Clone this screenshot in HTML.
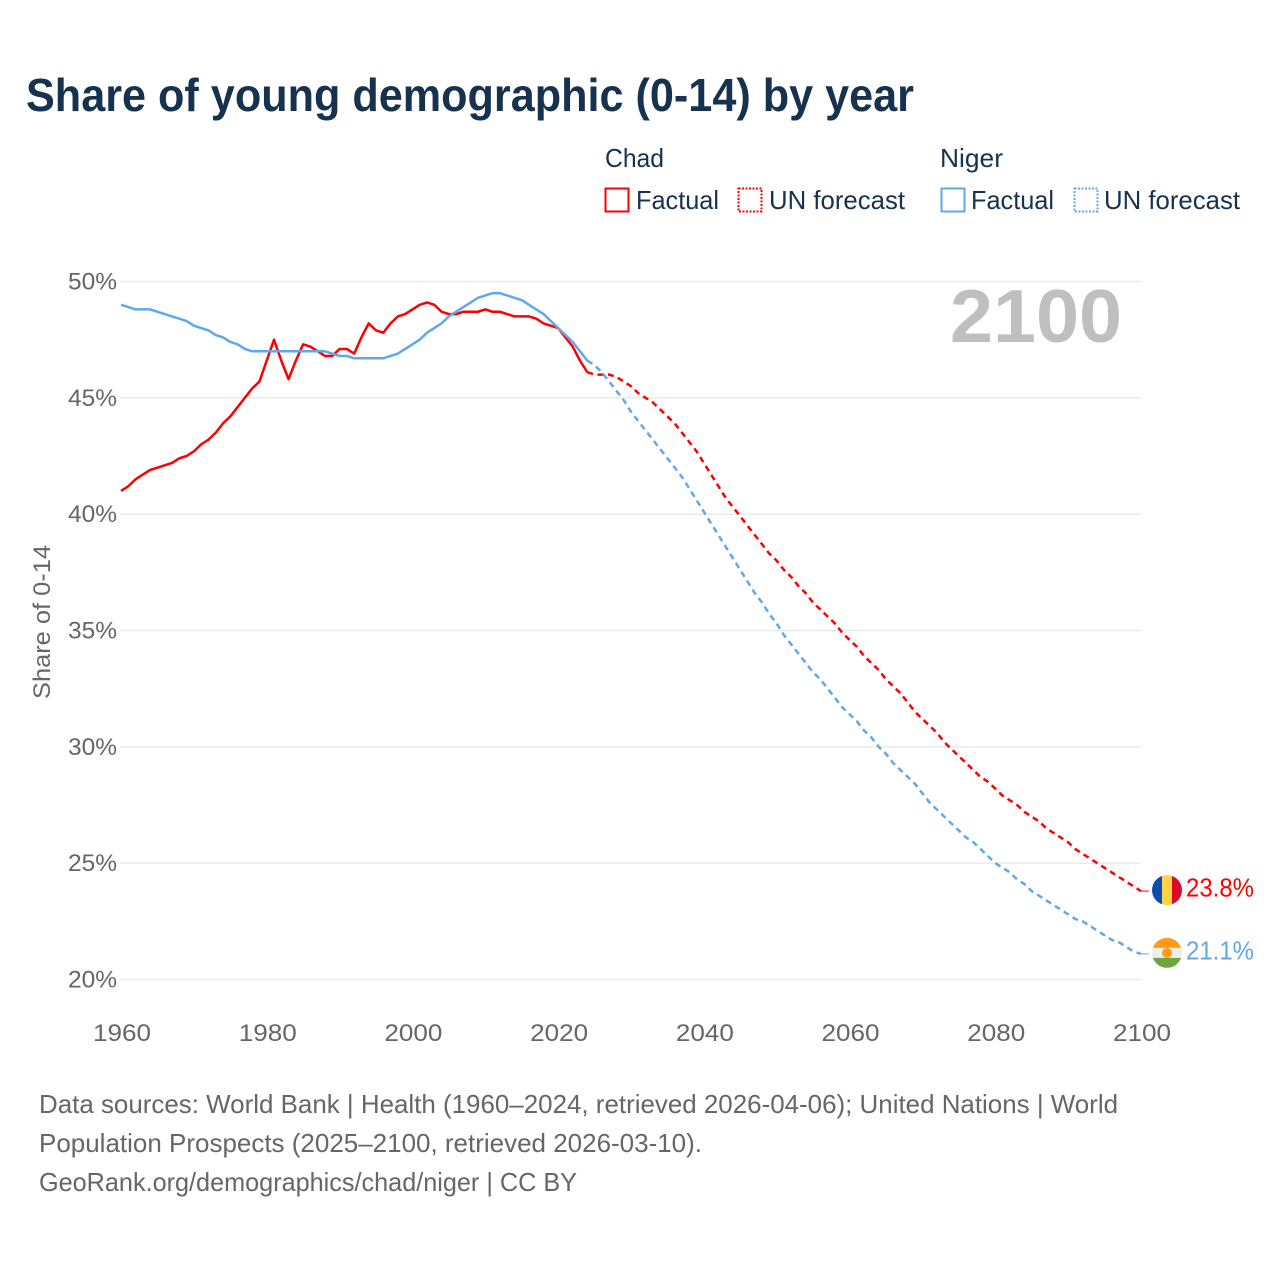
<!DOCTYPE html>
<html lang="en">
<head>
<meta charset="utf-8">
<title>Share of young demographic (0-14) by year</title>
<style>
  html, body { margin: 0; padding: 0; background: #fff; }
  svg { display: block; font-family: "Liberation Sans", sans-serif; }
</style>
</head>
<body>
<svg id="chart" xmlns="http://www.w3.org/2000/svg" width="1280" height="1280" viewBox="0 0 1280 1280">
  <rect width="1280" height="1280" fill="#ffffff"/>
  <text x="26" y="111" font-size="46" font-weight="700" fill="#16324f" textLength="888" lengthAdjust="spacingAndGlyphs">Share of young demographic (0-14) by year</text>

  <g font-size="26" fill="#16324f">
    <text x="605" y="167" textLength="59" lengthAdjust="spacingAndGlyphs">Chad</text>
    <text x="940" y="167" textLength="63" lengthAdjust="spacingAndGlyphs">Niger</text>
    <rect x="605.5" y="188.5" width="23" height="23" fill="none" stroke="#ff0000" stroke-width="2"/>
    <text x="636" y="209" textLength="83" lengthAdjust="spacingAndGlyphs">Factual</text>
    <rect x="738.5" y="188.5" width="23" height="23" fill="none" stroke="#ff0000" stroke-width="2" stroke-dasharray="2 1.5"/>
    <text x="769" y="209" textLength="136" lengthAdjust="spacingAndGlyphs">UN forecast</text>
    <rect x="941.5" y="188.5" width="23" height="23" fill="none" stroke="#5fa8ee" stroke-width="2"/>
    <text x="971" y="209" textLength="83" lengthAdjust="spacingAndGlyphs">Factual</text>
    <rect x="1074.5" y="188.5" width="23" height="23" fill="none" stroke="#5fa8ee" stroke-width="2" stroke-dasharray="2 1.5"/>
    <text x="1104" y="209" textLength="136" lengthAdjust="spacingAndGlyphs">UN forecast</text>
  </g>

  <g id="grid"></g>
  <g id="y-labels" font-size="24" fill="#666666" text-anchor="end"></g>
  <g id="x-labels" font-size="24" fill="#666666" text-anchor="middle"></g>

  <text transform="translate(50 622) rotate(-90)" font-size="24" fill="#666666" text-anchor="middle" textLength="154" lengthAdjust="spacingAndGlyphs">Share of 0-14</text>

  <text x="1122" y="342" font-size="75" font-weight="700" fill="#bfbfbf" text-anchor="end" textLength="172" lengthAdjust="spacingAndGlyphs">2100</text>

  <g id="series" fill="none" stroke-linejoin="round"></g>
  <g id="end-markers"></g>

  <g font-size="26" fill="#666666">
    <text x="39" y="1113" textLength="1079" lengthAdjust="spacingAndGlyphs">Data sources: World Bank | Health (1960–2024, retrieved 2026-04-06); United Nations | World</text>
    <text x="39" y="1152" textLength="663" lengthAdjust="spacingAndGlyphs">Population Prospects (2025–2100, retrieved 2026-03-10).</text>
    <text x="39" y="1191" textLength="538" lengthAdjust="spacingAndGlyphs">GeoRank.org/demographics/chad/niger | CC BY</text>
  </g>
</svg>

<script>
const factualYears = [1960,1961,1962,1963,1964,1965,1966,1967,1968,1969,1970,1971,1972,1973,1974,1975,1976,1977,1978,1979,1980,1981,1982,1983,1984,1985,1986,1987,1988,1989,1990,1991,1992,1993,1994,1995,1996,1997,1998,1999,2000,2001,2002,2003,2004,2005,2006,2007,2008,2009,2010,2011,2012,2013,2014,2015,2016,2017,2018,2019,2020,2021,2022,2023,2024];
const forecastYears = [2024,2025,2026,2027,2028,2029,2030,2031,2032,2033,2034,2035,2036,2037,2038,2039,2040,2041,2042,2043,2044,2045,2046,2047,2048,2049,2050,2051,2052,2053,2054,2055,2056,2057,2058,2059,2060,2061,2062,2063,2064,2065,2066,2067,2068,2069,2070,2071,2072,2073,2074,2075,2076,2077,2078,2079,2080,2081,2082,2083,2084,2085,2086,2087,2088,2089,2090,2091,2092,2093,2094,2095,2096,2097,2098,2099,2100];
const chadFactual = [41.0,41.2,41.5,41.7,41.9,42.0,42.1,42.2,42.4,42.5,42.7,43.0,43.2,43.5,43.9,44.2,44.6,45.0,45.4,45.7,46.6,47.5,46.6,45.8,46.6,47.3,47.2,47.0,46.8,46.8,47.1,47.1,46.9,47.6,48.2,47.9,47.8,48.2,48.5,48.6,48.8,49.0,49.1,49.0,48.7,48.6,48.6,48.7,48.7,48.7,48.8,48.7,48.7,48.6,48.5,48.5,48.5,48.4,48.2,48.1,48.0,47.6,47.2,46.6,46.1];
const chadForecast = [46.1,46.0,46.0,46.0,45.9,45.7,45.5,45.2,45.0,44.8,44.5,44.2,43.9,43.5,43.1,42.7,42.2,41.7,41.2,40.7,40.3,39.9,39.5,39.1,38.7,38.3,38.0,37.6,37.3,36.9,36.6,36.2,35.9,35.6,35.3,34.9,34.6,34.3,33.9,33.6,33.3,32.9,32.6,32.3,31.9,31.5,31.2,30.9,30.6,30.2,29.9,29.6,29.3,29.0,28.7,28.5,28.2,27.9,27.7,27.5,27.2,27.0,26.8,26.5,26.3,26.1,25.9,25.6,25.4,25.2,25.0,24.8,24.6,24.4,24.2,24.0,23.8];
const nigerFactual = [49.0,48.9,48.8,48.8,48.8,48.7,48.6,48.5,48.4,48.3,48.1,48.0,47.9,47.7,47.6,47.4,47.3,47.1,47.0,47.0,47.0,47.0,47.0,47.0,47.0,47.0,47.0,47.0,47.0,46.9,46.8,46.8,46.7,46.7,46.7,46.7,46.7,46.8,46.9,47.1,47.3,47.5,47.8,48.0,48.2,48.5,48.7,48.9,49.1,49.3,49.4,49.5,49.5,49.4,49.3,49.2,49.0,48.8,48.6,48.3,48.0,47.7,47.4,47.0,46.6];
const nigerForecast = [46.6,46.4,46.1,45.7,45.3,44.9,44.4,44.0,43.6,43.2,42.8,42.4,42.0,41.6,41.1,40.6,40.1,39.6,39.1,38.6,38.1,37.6,37.1,36.6,36.2,35.7,35.3,34.8,34.4,34.0,33.6,33.2,32.9,32.5,32.1,31.7,31.4,31.1,30.7,30.4,30.0,29.7,29.3,29.0,28.7,28.4,28.0,27.6,27.3,27.0,26.7,26.4,26.1,25.9,25.6,25.3,25.0,24.8,24.6,24.3,24.1,23.8,23.6,23.4,23.2,23.0,22.8,22.6,22.5,22.3,22.1,21.9,21.7,21.6,21.4,21.2,21.1];
const yTickValues = [50,45,40,35,30,25,20];
const xTickValues = [1960,1980,2000,2020,2040,2060,2080,2100];

const NS = 'http://www.w3.org/2000/svg';
const xScale = function (year) { return 121 + (year - 1960) * (1141 - 121) / 140; };
const yScale = function (value) { return 281.5 + (50 - value) * (979.5 - 281.5) / 30; };

function make(tag, parent) {
  const el = document.createElementNS(NS, tag);
  parent.appendChild(el);
  return el;
}

function linePath(xs, ys) {
  return xs.map(function (yr, i) {
    return (i ? 'L' : 'M') + xScale(yr).toFixed(2) + ' ' + yScale(ys[i]).toFixed(2);
  }).join(' ');
}

const gridGroup = document.getElementById('grid');
const yLabelGroup = document.getElementById('y-labels');
yTickValues.forEach(function (v) {
  const line = make('line', gridGroup);
  
  
  line.setAttribute('x1', 120);
  line.setAttribute('x2', 1141);
  line.setAttribute('y1', yScale(v));
  line.setAttribute('y2', yScale(v));
  line.setAttribute('stroke', '#e8e8e8');
  line.setAttribute('stroke-width', '1.3');

  const label = make('text', yLabelGroup);
  
  
  label.setAttribute('x', 117);
  label.setAttribute('y', yScale(v) + 8);
  label.setAttribute('textLength', '49');
  label.setAttribute('lengthAdjust', 'spacingAndGlyphs');
  label.textContent = v + '%';
});

const xLabelGroup = document.getElementById('x-labels');
xTickValues.forEach(function (yr) {
  const label = make('text', xLabelGroup);
  
  
  label.setAttribute('x', xScale(yr) + 1);
  label.setAttribute('y', 1041);
  label.setAttribute('textLength', '58');
  label.setAttribute('lengthAdjust', 'spacingAndGlyphs');
  label.textContent = yr;
});

const seriesGroup = document.getElementById('series');

const chadFactualLine = make('path', seriesGroup);


chadFactualLine.setAttribute('d', linePath(factualYears, chadFactual));
chadFactualLine.setAttribute('stroke', '#ff0000');
chadFactualLine.setAttribute('stroke-width', '2.5');

const nigerFactualLine = make('path', seriesGroup);


nigerFactualLine.setAttribute('d', linePath(factualYears, nigerFactual));
nigerFactualLine.setAttribute('stroke', '#5fa8ee');
nigerFactualLine.setAttribute('stroke-width', '2.5');

const chadForecastLine = make('path', seriesGroup);


chadForecastLine.setAttribute('d', linePath(forecastYears, chadForecast));
chadForecastLine.setAttribute('stroke', '#ff0000');
chadForecastLine.setAttribute('stroke-width', '2.5');
chadForecastLine.setAttribute('stroke-dasharray', '6 4.5');

const nigerForecastLine = make('path', seriesGroup);


nigerForecastLine.setAttribute('d', linePath(forecastYears, nigerForecast));
nigerForecastLine.setAttribute('stroke', '#5fa8ee');
nigerForecastLine.setAttribute('stroke-width', '2.5');
nigerForecastLine.setAttribute('stroke-dasharray', '6 4.5');

const markers = document.getElementById('end-markers');
const lastYear = forecastYears[forecastYears.length - 1];
const chadLast = chadForecast[chadForecast.length - 1];
const nigerLast = nigerForecast[nigerForecast.length - 1];
const cx = xScale(lastYear) + 26;

const chadConnector = make('line', markers);


chadConnector.setAttribute('x1', xScale(lastYear));
chadConnector.setAttribute('x2', xScale(lastYear) + 8);
chadConnector.setAttribute('y1', yScale(chadLast));
chadConnector.setAttribute('y2', yScale(chadLast));
chadConnector.setAttribute('stroke', '#ff0000');
chadConnector.setAttribute('stroke-width', '1');

const nigerConnector = make('line', markers);


nigerConnector.setAttribute('x1', xScale(lastYear));
nigerConnector.setAttribute('x2', xScale(lastYear) + 8);
nigerConnector.setAttribute('y1', yScale(nigerLast));
nigerConnector.setAttribute('y2', yScale(nigerLast));
nigerConnector.setAttribute('stroke', '#5fa8ee');
nigerConnector.setAttribute('stroke-width', '1');

const defs = make('defs', markers);
const chadClip = make('clipPath', defs);
chadClip.setAttribute('id', 'chad-clip');
const chadClipCircle = make('circle', chadClip);
chadClipCircle.setAttribute('cx', cx);
chadClipCircle.setAttribute('cy', yScale(chadLast) - 1);
chadClipCircle.setAttribute('r', 15);
const nigerClip = make('clipPath', defs);
nigerClip.setAttribute('id', 'niger-clip');
const nigerClipCircle = make('circle', nigerClip);
nigerClipCircle.setAttribute('cx', cx);
nigerClipCircle.setAttribute('cy', yScale(nigerLast) - 1);
nigerClipCircle.setAttribute('r', 15);

const chadFlag = make('g', markers);


chadFlag.setAttribute('clip-path', 'url(#chad-clip)');
['#0a4cb0', '#ffd33f', '#d90a2c'].forEach(function (color, i) {
  const band = make('rect', chadFlag);
  
  
  band.setAttribute('x', cx - 15 + i * 10);
  band.setAttribute('y', yScale(chadLast) - 16);
  band.setAttribute('width', 10);
  band.setAttribute('height', 30);
  band.setAttribute('fill', color);
});

const nigerFlag = make('g', markers);


nigerFlag.setAttribute('clip-path', 'url(#niger-clip)');
['#ff9a1a', '#eeeeee', '#6fa53f'].forEach(function (color, i) {
  const band = make('rect', nigerFlag);
  
  
  band.setAttribute('x', cx - 15);
  band.setAttribute('y', yScale(nigerLast) - 16 + i * 10);
  band.setAttribute('width', 30);
  band.setAttribute('height', 10);
  band.setAttribute('fill', color);
});
const nigerSun = make('circle', nigerFlag);


nigerSun.setAttribute('cx', cx);
nigerSun.setAttribute('cy', yScale(nigerLast) - 1);
nigerSun.setAttribute('r', 5);
nigerSun.setAttribute('fill', '#ff9a1a');

const chadValueLabel = make('text', markers);


chadValueLabel.setAttribute('x', 1186);
chadValueLabel.setAttribute('y', yScale(chadLast) + 5.5);
chadValueLabel.setAttribute('font-size', '26');
chadValueLabel.setAttribute('fill', '#ff0000');
chadValueLabel.setAttribute('textLength', '68');
chadValueLabel.setAttribute('lengthAdjust', 'spacingAndGlyphs');
chadValueLabel.textContent = chadLast.toFixed(1) + '%';

const nigerValueLabel = make('text', markers);


nigerValueLabel.setAttribute('x', 1186);
nigerValueLabel.setAttribute('y', yScale(nigerLast) + 5.5);
nigerValueLabel.setAttribute('font-size', '26');
nigerValueLabel.setAttribute('fill', '#5fa8ee');
nigerValueLabel.setAttribute('textLength', '68');
nigerValueLabel.setAttribute('lengthAdjust', 'spacingAndGlyphs');
nigerValueLabel.textContent = nigerLast.toFixed(1) + '%';
</script>
</body>
</html>
